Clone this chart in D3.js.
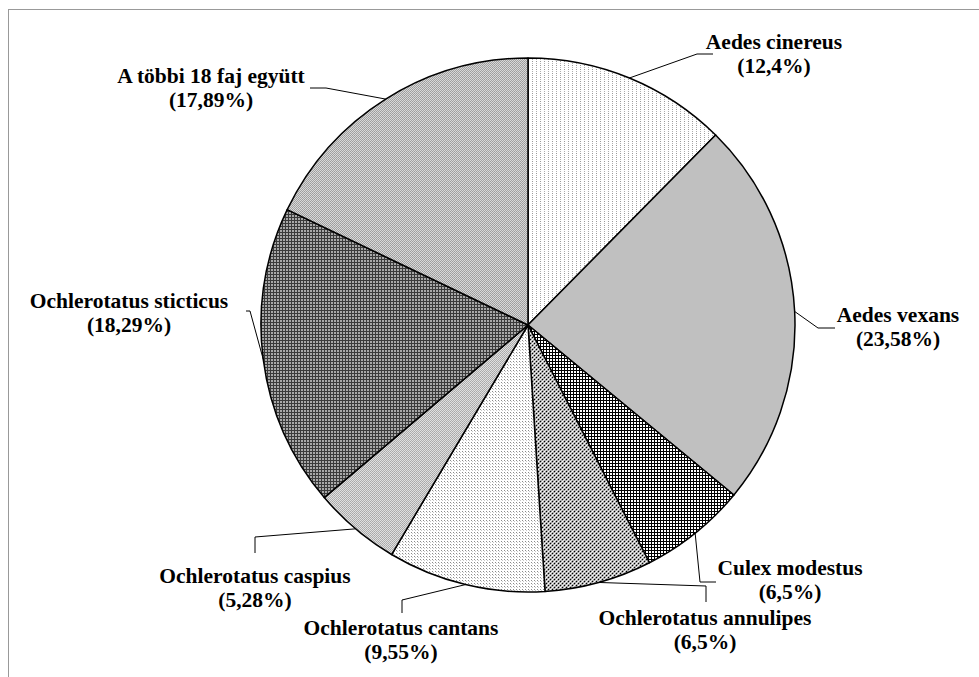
<!DOCTYPE html>
<html>
<head>
<meta charset="utf-8">
<script src="https://cdn.jsdelivr.net/npm/d3@7"></script>
<style>
html,body{margin:0;padding:0;background:#fff;}
svg{display:block;}
</style>
</head>
<body>
<svg id="chart" width="979" height="677"></svg>
<script>
// ---- data ----
const species = ["Aedes cinereus","Aedes vexans","Culex modestus","Ochlerotatus annulipes","Ochlerotatus cantans","Ochlerotatus caspius","Ochlerotatus sticticus","A többi 18 faj együtt"];
const shares = [12.4, 23.58, 6.5, 6.5, 9.55, 5.28, 18.29, 17.89];
const shareLabels = ["(12,4%)","(23,58%)","(6,5%)","(6,5%)","(9,55%)","(5,28%)","(18,29%)","(17,89%)"];

// ---- layout (label placement, not data) ----
const labelPos = [
  {x:774, y:49,  elbow:[697,54],  end:[713,54]},
  {x:898, y:322, elbow:[818,328], end:[835,328]},
  {x:790, y:575, elbow:[700,582], end:[716,582]},
  {x:705, y:625, elbow:[706,586], end:[706,602]},
  {x:401, y:635, elbow:[402,600], end:[402,613]},
  {x:255, y:583, elbow:[255,537], end:[255,553]},
  {x:129, y:308, elbow:[250,311], end:[246,311]},
  {x:211, y:83,  elbow:[326,88],  end:[310,88]}
];
const patternIds = ["p0","p1","p2","p3","p4","p5","p6","p7"];

const svg = d3.select("#chart");
const defs = svg.append("defs");

function pat(id, size, bg, dots){
  const p = defs.append("pattern").attr("id", id).attr("patternUnits","userSpaceOnUse")
    .attr("width", size).attr("height", size);
  p.append("rect").attr("width", size).attr("height", size).attr("fill", bg);
  dots.forEach(d => p.append("rect").attr("x", d[0]).attr("y", d[1])
    .attr("width", d[2] || 1).attr("height", d[3] || 1).attr("fill", d[4]));
}
pat("p0", 4, "#ffffff", [[0,0,1,1,"#9a9a9a"],[0,2,1,1,"#b0b0b0"]]);
pat("p1", 2, "#c0c0c0", []);
pat("p2", 3, "#ffffff", [[0,0,3,1,"#000"],[0,0,1,3,"#000"]]);
pat("p3", 4, "#a8a8a8", [[0,0,1,1,"#000"],[2,2,1,1,"#000"],[2,0,1,1,"#fff"],[0,2,1,1,"#fff"],[1,1,1,1,"#e0e0e0"],[3,3,1,1,"#e0e0e0"]]);
pat("p4", 3, "#ffffff", [[0,0,1,1,"#8a8a8a"],[1,1,1,1,"#c8c8c8"]]);
pat("p5", 2, "#e0e0e0", [[0,0,1,1,"#a8a8a8"],[1,1,1,1,"#b0b0b0"]]);
pat("p6", 3, "#a8a8a8", [[0,0,3,1,"#3a3a3a"],[0,0,1,3,"#3a3a3a"]]);
pat("p7", 2, "#d8d8d8", [[0,0,1,1,"#9c9c9c"],[1,1,1,1,"#a4a4a4"]]);

// frame
svg.append("rect").attr("x",8.5).attr("y",9.5).attr("width",985).attr("height",700)
  .attr("fill","none").attr("stroke","#999").attr("stroke-width",1);

const cx = 528, cy = 325, r = 267;
const g = svg.append("g").attr("transform", `translate(${cx},${cy})`);

const pie = d3.pie().sort(null).value(d => d)(shares);
const arc = d3.arc().innerRadius(0).outerRadius(r);

g.selectAll("path.slice").data(pie).join("path")
  .attr("class","slice")
  .attr("d", arc)
  .attr("fill", (d,i) => `url(#${patternIds[i]})`)
  .attr("stroke","#000").attr("stroke-width",1.5).attr("stroke-linejoin","round");

// leader lines
pie.forEach((d,i) => {
  const a = (d.startAngle + d.endAngle)/2;
  const sx = cx + r*Math.sin(a), sy = cy - r*Math.cos(a);
  const L = labelPos[i];
  svg.append("polyline")
    .attr("points", [[sx,sy], L.elbow, L.end].map(p=>p.join(",")).join(" "))
    .attr("fill","none").attr("stroke","#000").attr("stroke-width",1);
});

// labels
species.forEach((s,i) => {
  const L = labelPos[i];
  const t = svg.append("text")
    .attr("text-anchor","middle")
    .style("font-family", "\"Liberation Serif\"")
    .style("font-weight","bold").style("font-size","21.5px").attr("fill","#000");
  t.append("tspan").attr("x", L.x).attr("y", L.y).text(s);
  t.append("tspan").attr("x", L.x).attr("y", L.y + 24).text(shareLabels[i]);
});
</script>
</body>
</html>
